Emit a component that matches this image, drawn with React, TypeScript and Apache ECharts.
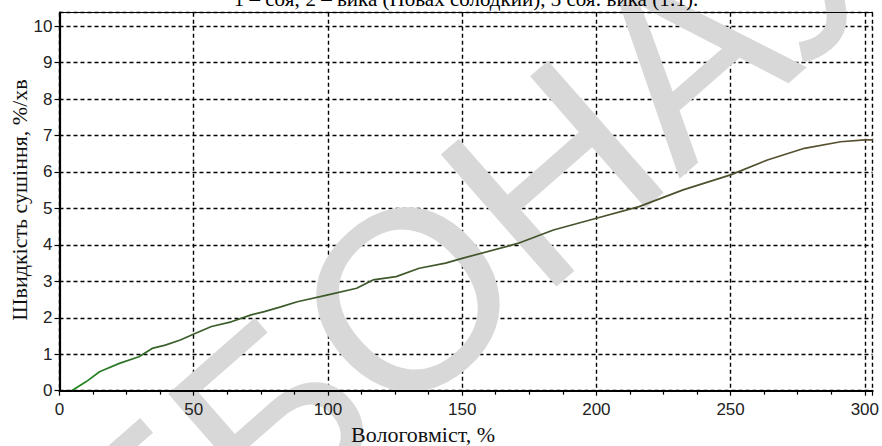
import React, { useEffect, useRef } from "react";
import * as echarts from "echarts";

// Moisture content, % (x) and drying rate, %/min (y)
const moistureValues = [4.5, 10, 14.9, 22.3, 29.6, 34.5, 39.4, 45, 50.5, 56.6, 64, 71.4, 76.3, 82.4, 88.6, 100, 110.7, 116.8, 125.4, 134, 143.8, 150, 170.7, 184, 200, 215.9, 232.3, 250, 263.7, 277.5, 291, 300, 303];
const rateValues = [0, 0.25, 0.52, 0.75, 0.93, 1.16, 1.25, 1.39, 1.57, 1.76, 1.89, 2.08, 2.17, 2.3, 2.44, 2.63, 2.81, 3.04, 3.13, 3.36, 3.5, 3.63, 4.04, 4.41, 4.73, 5.05, 5.51, 5.92, 6.33, 6.65, 6.83, 6.88, 6.88];

const xMin = 0;
const xMax = 302.9;
const xInterval = 50;
const yMin = 0;
const yMax = 10.37;
const yInterval = 1;

const titleText = "1 – соя; 2 – вика (Новах солодкий), 3 соя: вика (1:1).";
const xName = "Вологовміст, %";
const yName = "Швидкість сушіння, %/хв";
const watermarkText = "ЕБОНАУ";

export default function App() {
  const ref = useRef<HTMLDivElement>(null);
  useEffect(() => {
    if (!ref.current) return;
    const chart = echarts.init(ref.current, null, { renderer: "svg" });
    const data = moistureValues.map((x, i) => [x, rateValues[i]]);
    const dashed = { type: [4, 3] as any, color: "#000", width: 1.4 };
    const tickFont = { fontFamily: "Liberation Sans", fontSize: 17, color: "#222" };
    const grid = { left: 59.5, right: 0, top: 12.7, bottom: 55.3 };
    chart.setOption({
      animation: false,
      backgroundColor: "#fff",
      grid,
      xAxis: [
        {
          type: "value", min: xMin, max: xMax, interval: xInterval, z: 0,
          axisLine: { show: false }, axisTick: { show: false }, axisLabel: { show: false },
          splitLine: { show: true, lineStyle: dashed },
        },
        {
          type: "value", min: xMin, max: xMax, interval: xInterval, z: 5, position: "bottom",
          axisLine: { show: true, onZero: false, lineStyle: { color: "#000", width: 2.2 } },
          axisTick: { show: true, length: 5, lineStyle: { color: "#000", width: 1.2 } },
          minorTick: { show: true, splitNumber: 4, length: 4, lineStyle: { color: "#000", width: 1.2 } },
          axisLabel: { ...tickFont, margin: 10, showMaxLabel: false },
          splitLine: { show: false },
        },
        {
          type: "value", min: xMin, max: xMax, interval: xInterval, z: 5, position: "top",
          axisLine: { show: true, onZero: false, lineStyle: { color: "#000", width: 1 } },
          axisTick: { show: false }, axisLabel: { show: false }, splitLine: { show: false },
        },
      ],
      yAxis: [
        {
          type: "value", min: yMin, max: yMax, interval: yInterval, z: 0,
          axisLine: { show: false }, axisTick: { show: false }, axisLabel: { show: false },
          splitLine: { show: true, lineStyle: dashed },
        },
        {
          type: "value", min: yMin, max: yMax, interval: yInterval, z: 5, position: "left",
          axisLine: { show: true, onZero: false, lineStyle: { color: "#000", width: 2.2 } },
          axisTick: { show: true, length: 5, lineStyle: { color: "#000", width: 1.2 } },
          axisLabel: { ...tickFont, margin: 7, showMaxLabel: false },
          splitLine: { show: false },
        },
      ],
      graphic: [
        {
          type: "text", x: 472, y: 243, rotation: 0.72, z: 1, silent: true,
          style: {
            text: watermarkText, fill: "#d8d8d8", fontFamily: "Liberation Sans",
            fontWeight: "normal", fontSize: 255, align: "center", verticalAlign: "middle",
          },
        },
        {
          type: "text", x: 466, y: 9, z: 10,
          style: {
            text: titleText, fill: "#000", fontFamily: "Liberation Serif", fontSize: 21,
            align: "center", verticalAlign: "bottom",
          },
        },
        {
          type: "text", x: 423, y: 434, z: 10,
          style: {
            text: xName, fill: "#111", fontFamily: "Liberation Serif", fontSize: 22,
            align: "center", verticalAlign: "middle",
          },
        },
        {
          type: "text", x: 19, y: 200, rotation: Math.PI / 2, z: 10,
          style: {
            text: yName, fill: "#111", fontFamily: "Liberation Serif", fontSize: 22,
            align: "center", verticalAlign: "middle",
          },
        },
      ],
      series: [
        {
          type: "line", xAxisIndex: 0, yAxisIndex: 0, data, showSymbol: false, z: 3,
          lineStyle: {
            width: 1.7,
            color: new echarts.graphic.LinearGradient(0, 0, 1, 0, [
              { offset: 0, color: "#1d8a1d" },
              { offset: 0.04, color: "#2a7d26" },
              { offset: 0.12, color: "#3a5f2a" },
              { offset: 0.6, color: "#44542c" },
              { offset: 1, color: "#5a4f30" },
            ]),
          },
        },
      ],
    });
    return () => chart.dispose();
  }, []);
  return <div ref={ref} style={{ width: 882, height: 446, position: "absolute", left: 0, top: 0 }} />;
}
